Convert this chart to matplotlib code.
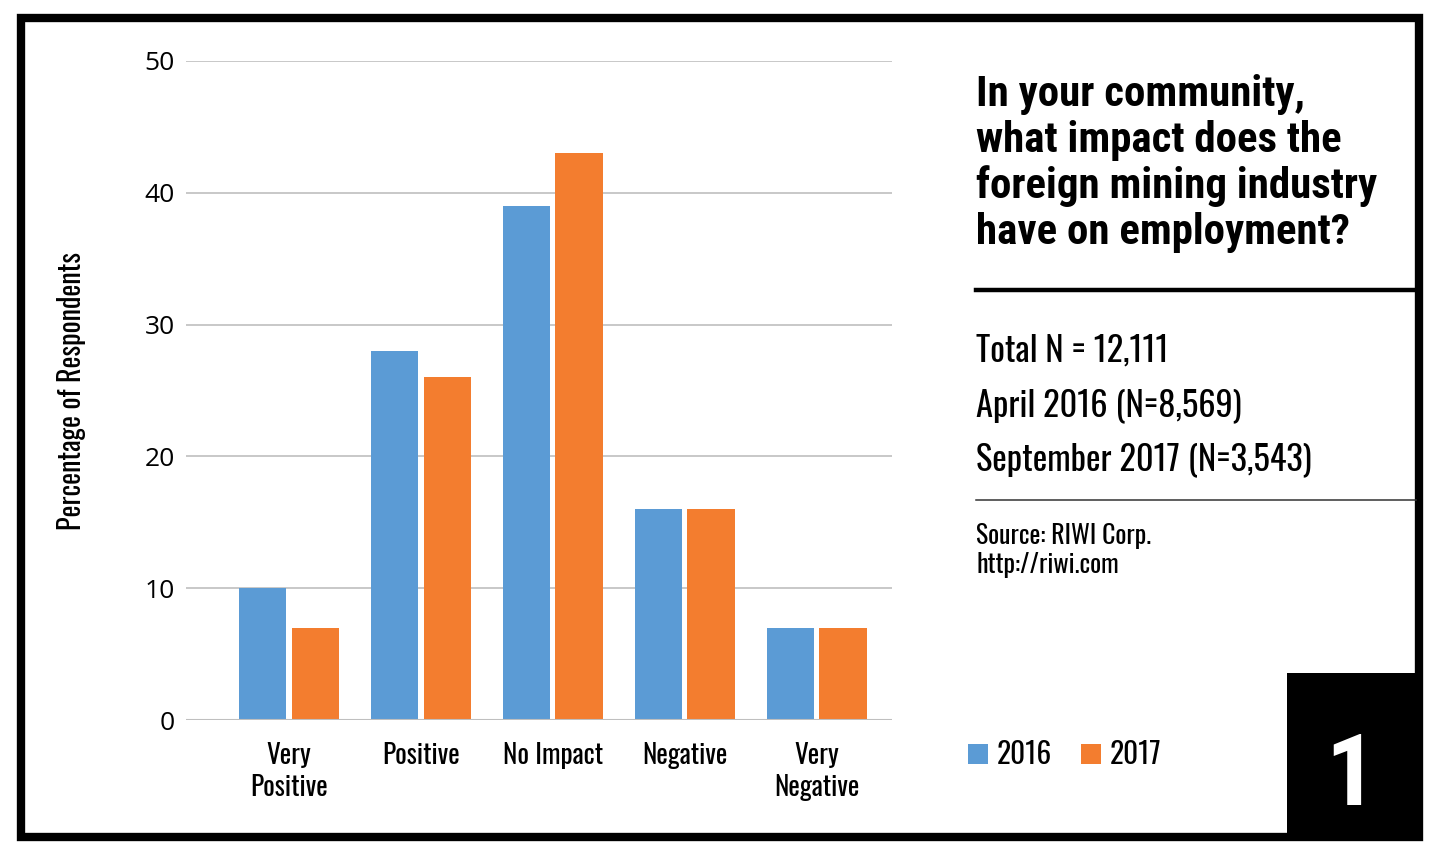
import numpy as np
import matplotlib
matplotlib.use("Agg")
import matplotlib.pyplot as plt
from matplotlib import font_manager
from matplotlib.patches import Rectangle, Patch
from matplotlib.lines import Line2D

# data
categories = ["Very\nPositive", "Positive", "No Impact", "Negative", "Very\nNegative"]
vals_2016 = [10, 28, 39, 16, 7]
vals_2017 = [7, 26, 43, 16, 7]
series_names = ["2016", "2017"]
y_ticks = [0, 10, 20, 30, 40, 50]

title_lines = ["In your community,", "what impact does the",
               "foreign mining industry", "have on employment?"]
info_lines = ["Total N = 12,111", "April 2016 (N=8,569)", "September 2017 (N=3,543)"]
source_lines = ["Source: RIWI Corp.", "http://riwi.com"]

BLUE = "#5B9BD5"
ORANGE = "#F37D2F"

# fonts: narrow regular + narrow heavy
fonts = font_manager.fontManager.ttflist
names = set(f.name for f in fonts)
cond = "Oswald" if "Oswald" in names else "Roboto Condensed"
plain = "Open Sans" if "Open Sans" in names else "DejaVu Sans"
if "Roboto Condensed" in names:
    heavy, heavy_w = "Roboto Condensed", "bold"
else:
    heavy, heavy_w = cond, "bold"

W, H = 1442, 857
fig = plt.figure(figsize=(W / 100, H / 100), dpi=100)
fig.patch.set_facecolor("white")
renderer = fig.canvas.get_renderer()


def fx(x):
    return x / W


def fy(y):
    return 1 - y / H


def fit_size(text, family, weight, target_px, start=20):
    t = fig.text(0, 0, text, fontsize=start, family=family, fontweight=weight)
    w = t.get_window_extent(renderer).width
    t.remove()
    return start * target_px / w


# chart
ax = fig.add_axes([fx(186), fy(720), fx(892 - 186), (720 - 61) / H])
x = np.arange(len(categories))
bw = 0.36
ax.bar(x - 0.2, vals_2016, bw, color=BLUE, zorder=3)
ax.bar(x + 0.2, vals_2017, bw, color=ORANGE, zorder=3)
ax.set_xlim(-0.78, 4.57)
ax.set_ylim(0, 50)
ax.set_yticks(y_ticks)
ax.set_yticklabels([str(v) for v in y_ticks], fontsize=19, family=plain)
ax.set_xticks(x)
xt_size = fit_size("Positive", cond, "normal", 78)
ax.set_xticklabels(categories, fontsize=xt_size, family=cond, linespacing=1.2)
ax.tick_params(axis="both", length=0)
ax.tick_params(axis="y", pad=8)
ax.tick_params(axis="x", pad=16)
ax.grid(axis="y", color="#BFBFBF", lw=1.2, zorder=0)
ax.set_axisbelow(True)
for s in ax.spines.values():
    s.set_visible(False)
ax.axhline(0, color="#BFBFBF", lw=1.5, zorder=4)
yl_size = fit_size("Percentage of Respondents", cond, "normal", 278)
ax.set_ylabel("Percentage of Respondents", fontsize=yl_size, family=cond, labelpad=42)

# right hand text
t_size = fit_size("foreign mining industry", heavy, heavy_w, 400)
for i, t in enumerate(title_lines):
    fig.text(fx(976), fy(106 + 46 * i), t, fontsize=t_size, fontweight=heavy_w,
             family=heavy, va="baseline", ha="left")
i_size = fit_size("September 2017 (N=3,543)", cond, "normal", 336)
for i, t in enumerate(info_lines):
    fig.text(fx(976), fy(362 + 54 * i), t, fontsize=i_size, family=cond,
             va="baseline", ha="left")
s_size = fit_size("Source: RIWI Corp.", cond, "normal", 176)
for i, t in enumerate(source_lines):
    fig.text(fx(976), fy(544 + 29 * i), t, fontsize=s_size, family=cond,
             va="baseline", ha="left")

fig.add_artist(Line2D([fx(976), fx(1416)], [fy(290), fy(290)], color="black", lw=3.2))
fig.add_artist(Line2D([fx(976), fx(1416)], [fy(500), fy(500)], color="#333333", lw=1.1))

# legend
lg_size = fit_size("2016", cond, "normal", 55)
sq = 20 / (lg_size * 100 / 72)
handles = [Patch(facecolor=BLUE), Patch(facecolor=ORANGE)]
fig.legend(handles, series_names, loc="center left",
           bbox_to_anchor=(fx(968), fy(755)), ncol=2, frameon=False, borderpad=0,
           borderaxespad=0, prop={"family": cond, "size": lg_size},
           handlelength=sq, handleheight=sq, handletextpad=0.3, columnspacing=1.0)

# frame and number box
fig.add_artist(Rectangle((fx(21), fy(837)), fx(1419 - 21), (837 - 18) / H,
                         fill=False, edgecolor="black", lw=6))
fig.add_artist(Rectangle((fx(1287), fy(841)), fx(1423 - 1287), (841 - 673) / H,
                         facecolor="black", edgecolor="none"))
fig.text(fx(1351), fy(805), "1", color="white", fontsize=72, fontweight="bold",
         family=heavy, ha="center", va="baseline")

fig.savefig("out.png", dpi=100, facecolor="white")
